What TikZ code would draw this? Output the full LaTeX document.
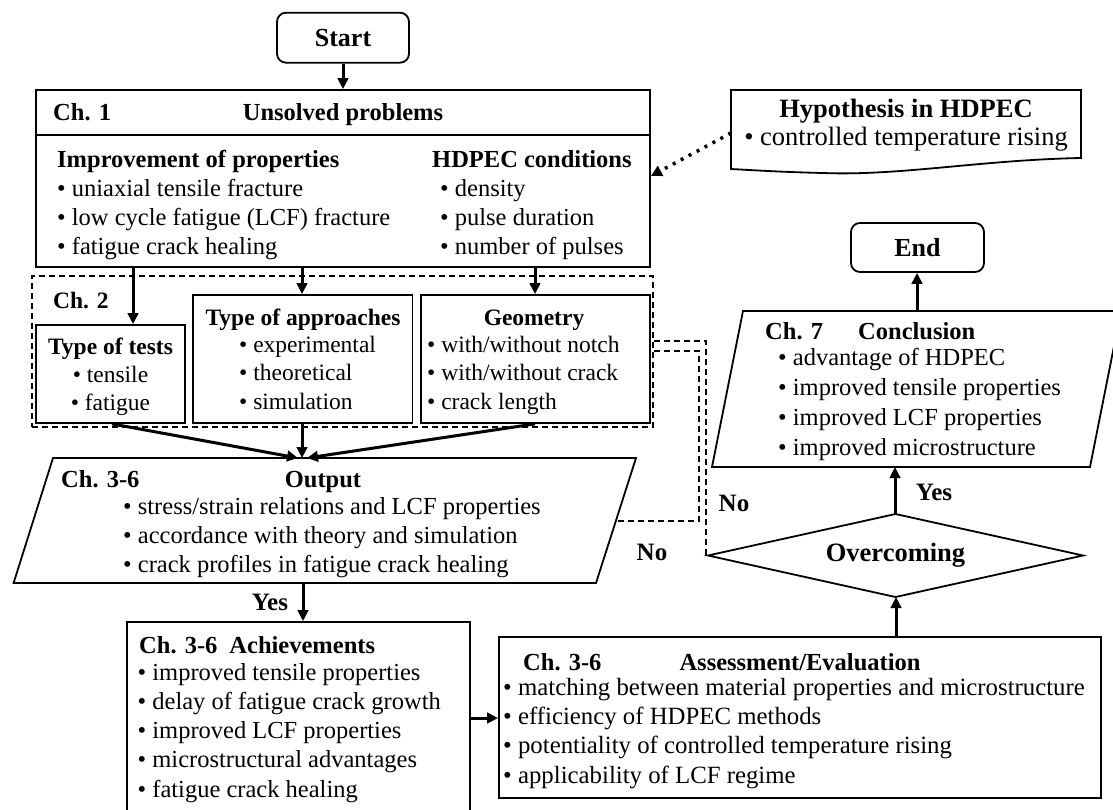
\documentclass[tikz,border=0pt]{standalone}
\usepackage{fontspec}
\setmainfont{Liberation Serif}
\usetikzlibrary{arrows.meta,shapes.geometric}
\begin{document}
\begin{tikzpicture}[x=1pt,y=-1pt,
  boxline/.style={line width=1.8pt},
  box/.style={draw,boxline,inner sep=0pt},
  term/.style={box,rounded corners=9pt,font=\fontsize{26}{30}\selectfont\bfseries},
  ghost/.style={inner sep=0pt,outer sep=0pt},
  arr/.style={line width=3pt,-{Triangle[length=11pt,width=10.5pt]}},
  dashline/.style={line width=1.2pt,dash pattern=on 6pt off 4pt},
  txt/.style={inner sep=0pt,font=\fontsize{24.5}{29}\selectfont,align=left},
  txtb/.style={inner sep=0pt,font=\fontsize{24.5}{29}\selectfont\bfseries},
  stxt/.style={inner sep=0pt,font=\fontsize{23.5}{28.5}\selectfont,align=left},
  stxtb/.style={inner sep=0pt,font=\fontsize{23.5}{28.5}\selectfont\bfseries},
  lab/.style={inner sep=0pt,font=\fontsize{25}{29}\selectfont\bfseries},
]
\useasboundingbox (0,0) rectangle (1113,809);

% Start
\node[term,minimum width=132pt,minimum height=50pt] (start) at (343,37.7) {Start};

% Ch. 1 (multi-line nodes are placed by the baseline of their last line)
\node[box,minimum width=614.3pt,minimum height=177pt] (ch1) at (342.85,178.5) {};
\draw[boxline] (ch1.west |- 0,135) -- (ch1.east |- 0,135);
\node[txtb,anchor=base west] (ch1lab) at (53,120) {Ch. 1};
\node[txtb,anchor=base] (unsolved) at (343,120) {Unsolved problems};
\node[txt,anchor=base west] (impr) at (57,254) {\textbf{Improvement of properties}\\• uniaxial tensile fracture\\• low cycle fatigue (LCF) fracture\\• fatigue crack healing};
\node[txt,anchor=base west] (hdpec) at (432,254) {\textbf{HDPEC conditions}\\\hspace*{8pt}• density\\\hspace*{8pt}• pulse duration\\\hspace*{8pt}• number of pulses};
\draw[arr] (start.south) -- (start.south |- ch1.north);

% Hypothesis
\draw[boxline] (731,90) -- (1081,90) -- (1081,158) .. controls (980,160) and (900,176) .. (823,173) .. controls (780,172) and (750,170) .. (731,169) -- cycle;
\node[ghost,minimum width=350pt,minimum height=80pt] (hyp) at (906,130) {};
\node[inner sep=0pt,font=\fontsize{26.5}{28}\selectfont,align=center,anchor=base] (hyptxt) at (906,145) {\textbf{Hypothesis in HDPEC}\\• controlled temperature rising};
\draw[line width=3.5pt,dash pattern=on 3pt off 6pt,-{Triangle[length=11pt,width=11pt]}] (hyp.west |- 0,133) -- (ch1.east |- 0,176);

% Ch. 2
\node[box,dashline,minimum width=621pt,minimum height=151pt] (ch2) at (342.5,351.5) {};
\node[stxtb,anchor=base west] (ch2lab) at (53,308) {Ch. 2};
\node[box,minimum width=149pt,minimum height=98pt] (tests) at (110.5,374) {};
\node[stxt,align=center,anchor=base,font=\fontsize{23.5}{28}\selectfont] (teststxt) at (110.5,410) {\textbf{Type of tests}\\• tensile\\• fatigue};
\node[box,minimum width=219.5pt,minimum height=128pt] (appr) at (302.75,359) {};
\node[stxtb,anchor=base] (apprtitle) at (303,325) {Type of approaches};
\node[stxt,anchor=base west] (apprlist) at (239,409) {• experimental\\• theoretical\\• simulation};
\node[box,minimum width=229pt,minimum height=128pt] (geom) at (535.5,359) {};
\node[stxtb,anchor=base] (geomtitle) at (534,325) {Geometry};
\node[stxt,anchor=base west] (geomlist) at (427,409) {• with/without notch\\• with/without crack\\• crack length};
\draw[arr] (133,0 |- ch1.south) -- (133,0 |- tests.north);
\draw[arr] (302,0 |- ch1.south) -- (302,0 |- appr.north);
\draw[arr] (535,0 |- ch1.south) -- (535,0 |- geom.north);

% Output
\node[ghost,minimum width=622.4pt,minimum height=125pt] (output) at (324.8,520.5) {};
\draw[boxline] (53,458) -- (636,458) -- (596,583) -- (13.6,583) -- cycle;
\draw[arr] (112,0 |- tests.south) -- (298,0 |- output.north);
\draw[arr] (302,0 |- appr.south) -- (302,0 |- output.north);
\draw[arr] (535,0 |- geom.south) -- (307,0 |- output.north);
\node[txtb,anchor=base west] (outlab) at (61,487) {Ch. 3-6};
\node[txtb,anchor=base] (outtitle) at (323,487) {Output};
\node[txt,anchor=base west] (outlist) at (123,572) {• stress/strain relations and LCF properties\\• accordance with theory and simulation\\• crack profiles in fatigue crack healing};
\coordinate (outr) at (617,521);

% Achievements
\node[box,minimum width=343pt,minimum height=193pt] (ach) at (298.5,718.5) {};
\draw[arr] (303,0 |- output.south) -- (303,0 |- ach.north);
\node[lab,anchor=base] (yes1) at (270,610) {Yes};
\node[txtb,anchor=base west] (achtitle) at (139,653) {Ch. 3-6\hspace{12pt}Achievements};
\node[txt,font=\fontsize{24.5}{29.25}\selectfont,anchor=base west] (achlist) at (137.5,797) {• improved tensile properties\\• delay of fatigue crack growth\\• improved LCF properties\\• microstructural advantages\\• fatigue crack healing};

% Assessment
\node[box,minimum width=602pt,minimum height=161pt] (assess) at (800,717.5) {};
\draw[arr] (ach.east |- 0,718) -- (assess.west |- 0,718);
\node[txtb,anchor=base west] (asslab) at (523,670) {Ch. 3-6};
\node[txtb,anchor=base] (asstitle) at (800,670) {Assessment/Evaluation};
\node[txt,font=\fontsize{24.8}{29.3}\selectfont,anchor=base west] (asslist) at (503,783) {• matching between material properties and microstructure\\• efficiency of HDPEC methods\\• potentiality of controlled temperature rising\\• applicability of LCF regime};

% Decision
\node[ghost,minimum width=375pt,minimum height=83pt,font=\fontsize{26.5}{30}\selectfont\bfseries] (over) at (895.5,555.5) {Overcoming};
\draw[boxline] (over.west) -- (over.north) -- (over.east) -- (over.south) -- cycle;
\draw[arr] (896,0 |- assess.north) -- (896,0 |- over.south);
\node[lab,anchor=base] (no1) at (652,560) {No};
\node[lab,anchor=base] (no2) at (734,511) {No};
\node[lab,anchor=base] (yes2) at (934,500) {Yes};

% Conclusion
\node[ghost,minimum width=409pt,minimum height=156pt] (concl) at (916.5,389) {};
\draw[boxline] (743,311) -- (1121,311) -- (1090,467) -- (712,467) -- cycle;
\draw[arr] (895,0 |- over.north) -- (895,0 |- concl.south);
\node[txtb,anchor=base west] (concllab) at (765,339) {Ch. 7};
\node[txtb,anchor=base west] (concltitle) at (858,339) {Conclusion};
\node[txt,font=\fontsize{24.5}{29.7}\selectfont,anchor=base west] (concllist) at (778,455) {• advantage of HDPEC\\• improved tensile properties\\• improved LCF properties\\• improved microstructure};

% End
\node[term,minimum width=133pt,minimum height=49pt] (end) at (917.5,247.5) {End};
\draw[arr] (917,0 |- concl.north) -- (917,0 |- end.south);

% Dashed feedback lines
\draw[dashline] (ch2.east |- 0,341) -- (706,341) -- (706,0 |- over.west) -- (over.west);
\draw[dashline] (ch2.east |- 0,351) -- (699,351) -- (699,0 |- outr) -- (outr);
\end{tikzpicture}
\end{document}
